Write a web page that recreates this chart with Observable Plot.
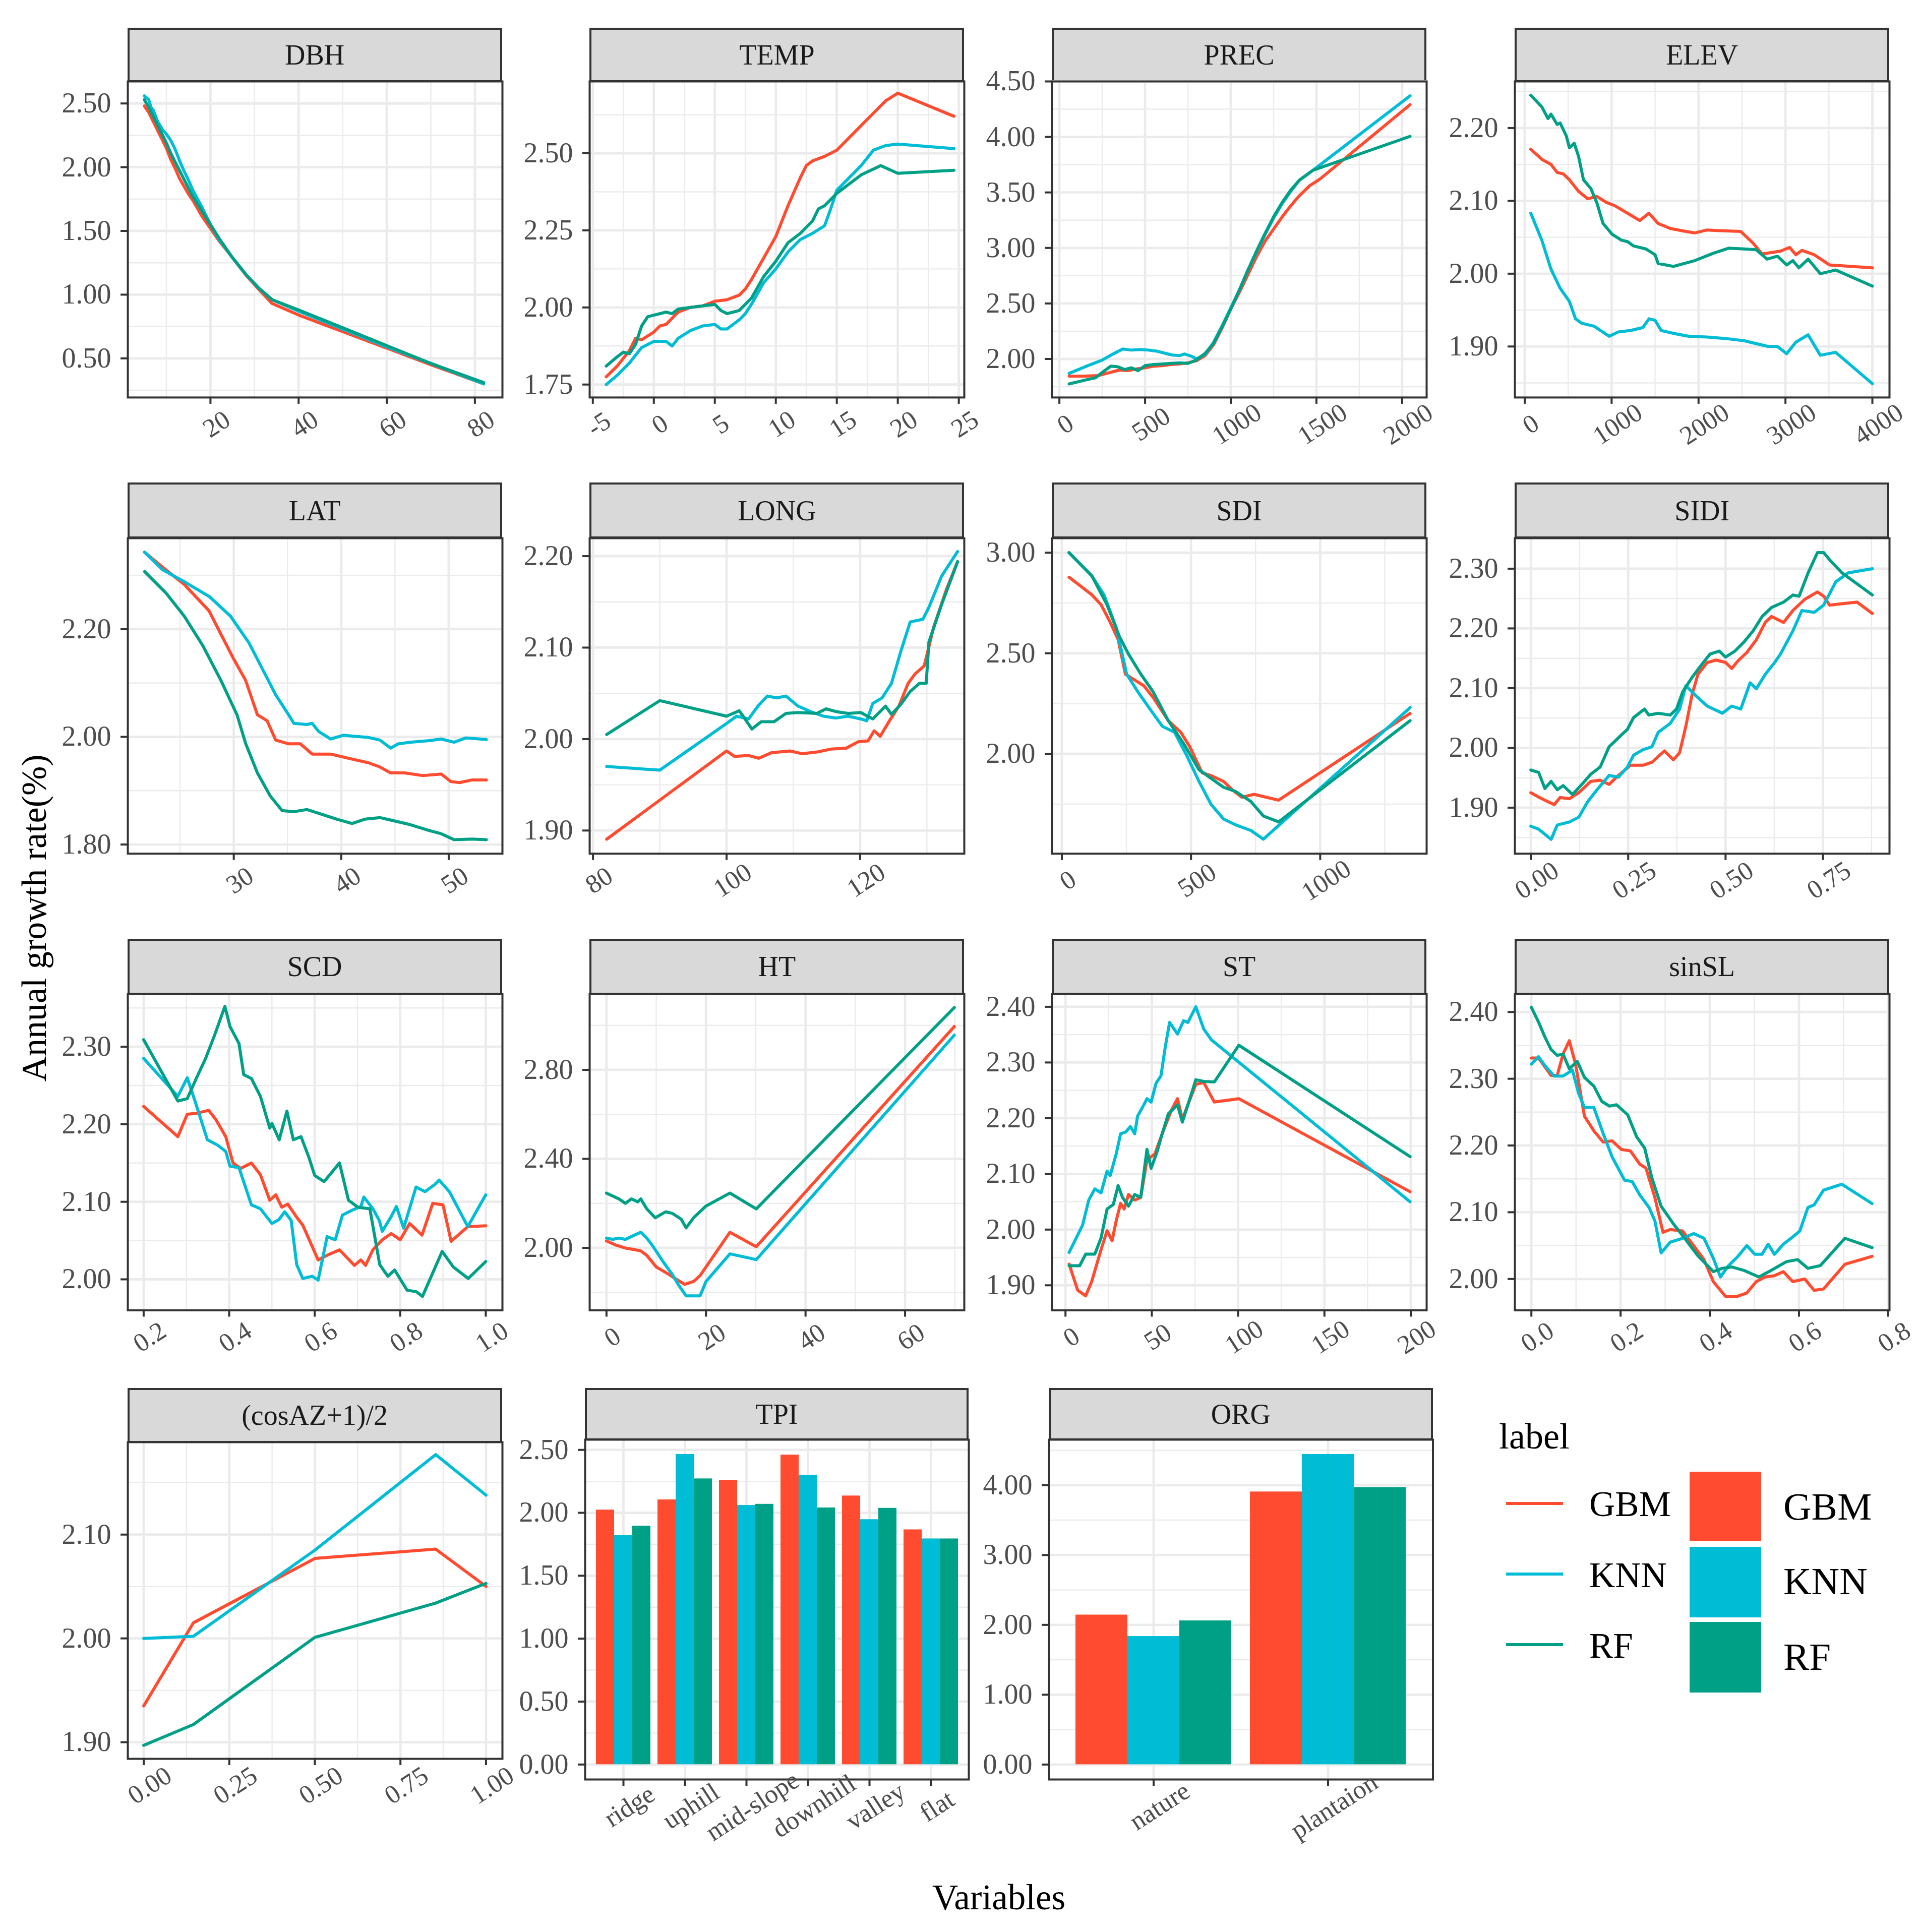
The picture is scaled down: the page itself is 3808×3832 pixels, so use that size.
<!DOCTYPE html>
<html><head><meta charset="utf-8">
<script src="https://cdn.jsdelivr.net/npm/d3@7"></script>
<script src="https://cdn.jsdelivr.net/npm/@observablehq/plot@0.6"></script>
<style>
body{margin:0;background:#fff;}
#root{position:relative;width:3808px;height:3832px;background:#fff;font-family:"Liberation Serif","Times New Roman",serif;overflow:hidden}
#root svg, #root svg text{font-family:"Liberation Serif","Times New Roman",serif !important}
.strip{position:absolute;box-sizing:border-box;background:#D9D9D9;border:4px solid #333;display:flex;align-items:center;justify-content:center;font-size:56px;color:#1A1A1A}
</style></head><body><div id="root"></div>
<script>
// ---------------- DATA ----------------
const models = ["GBM","KNN","RF"];
const palette = ["#FF4B2F","#00BCD5","#00A087"];

const dbh_GBM = [[5,2.48],[6,2.43],[7,2.36],[8,2.29],[9,2.22],[10,2.15],[11,2.06],[12,1.99],[13,1.91],[14,1.85],[15,1.79],[16,1.74],[18,1.62],[20,1.52],[22,1.42],[25,1.29],[28,1.155],[31,1.04],[34,0.93],[40,0.84],[50,0.71],[60,0.58],[70,0.45],[82,0.30]];
const dbh_KNN = [[5,2.56],[6,2.53],[6.5,2.47],[7,2.45],[8,2.36],[9,2.30],[10,2.26],[11,2.21],[12,2.14],[13,2.05],[14,1.97],[15,1.90],[16,1.82],[18,1.69],[20,1.55],[22,1.43],[25,1.29],[28,1.16],[31,1.05],[34,0.96],[40,0.87],[50,0.73],[60,0.59],[70,0.46],[82,0.30]];
const dbh_RF = [[5,2.53],[6,2.47],[7,2.40],[8,2.33],[9,2.26],[10,2.19],[11,2.11],[12,2.04],[14,1.905],[16,1.77],[18,1.66],[20,1.55],[22,1.44],[25,1.29],[28,1.16],[31,1.05],[34,0.96],[40,0.88],[50,0.74],[60,0.60],[70,0.46],[82,0.31]];

const temp_GBM = [[-3.9,1.775],[-3,1.81],[-2,1.86],[-1.5,1.90],[-1,1.895],[0,1.92],[0.5,1.94],[1,1.945],[2,1.985],[3,2.0],[4,2.005],[5,2.02],[6,2.025],[7,2.04],[7.5,2.06],[8,2.09],[9,2.16],[10,2.23],[11,2.33],[12,2.42],[12.5,2.46],[13,2.475],[14,2.49],[15,2.51],[16,2.55],[17,2.59],[18,2.63],[19,2.67],[20,2.695],[24.6,2.62]];
const temp_KNN = [[-3.9,1.75],[-3,1.78],[-2,1.82],[-1,1.87],[0,1.89],[1,1.89],[1.5,1.875],[2,1.90],[3,1.925],[4,1.94],[5,1.945],[5.5,1.93],[6,1.93],[6.5,1.945],[7,1.96],[7.5,1.98],[8,2.01],[9,2.08],[10,2.125],[11,2.18],[12,2.22],[13,2.24],[14,2.265],[14.5,2.32],[15,2.38],[16,2.42],[17,2.46],[18,2.51],[19,2.525],[20,2.53],[24.6,2.515]];
const temp_RF = [[-3.9,1.81],[-3,1.84],[-2.5,1.855],[-2,1.85],[-1.5,1.88],[-1,1.94],[-0.5,1.97],[0,1.975],[1,1.985],[1.5,1.98],[2,1.995],[3,2.0],[4,2.005],[5,2.01],[5.5,1.99],[6,1.98],[6.5,1.985],[7,1.99],[7.5,2.01],[8,2.03],[9,2.10],[10,2.15],[11,2.21],[12,2.24],[13,2.28],[13.5,2.32],[14,2.33],[15,2.37],[16,2.40],[17,2.43],[18.6,2.46],[20,2.435],[24.6,2.445]];

const prec_GBM = [[57,1.845],[150,1.845],[225,1.85],[300,1.88],[350,1.90],[400,1.895],[450,1.91],[500,1.92],[550,1.935],[600,1.94],[650,1.95],[700,1.955],[750,1.965],[800,1.985],[850,2.03],[900,2.13],[950,2.28],[1000,2.45],[1050,2.60],[1100,2.76],[1150,2.92],[1200,3.06],[1250,3.17],[1300,3.28],[1350,3.38],[1400,3.47],[1460,3.56],[1520,3.62],[2046,4.29]];
const prec_KNN = [[57,1.87],[150,1.93],[250,1.99],[320,2.05],[370,2.09],[420,2.08],[470,2.085],[520,2.08],[570,2.07],[620,2.05],[660,2.035],[700,2.03],[730,2.045],[770,2.025],[800,2.0],[850,2.04],[900,2.15],[950,2.30],[1000,2.46],[1050,2.62],[1100,2.80],[1150,2.96],[1200,3.12],[1250,3.27],[1300,3.40],[1350,3.51],[1400,3.61],[1480,3.70],[2046,4.37]];
const prec_RF = [[57,1.775],[150,1.81],[210,1.83],[260,1.89],[300,1.935],[340,1.93],[380,1.905],[420,1.92],[460,1.895],[500,1.94],[550,1.95],[600,1.955],[650,1.96],[700,1.965],[750,1.96],[800,1.99],[850,2.05],[900,2.14],[950,2.29],[1000,2.45],[1050,2.62],[1100,2.80],[1150,2.97],[1200,3.13],[1250,3.28],[1300,3.41],[1350,3.52],[1400,3.61],[1480,3.70],[2046,4.005]];

const elev_GBM = [[70,2.171],[197,2.157],[303,2.15],[373,2.139],[444,2.137],[514,2.129],[620,2.113],[725,2.103],[831,2.106],[937,2.098],[1042,2.093],[1183,2.083],[1324,2.073],[1430,2.083],[1535,2.069],[1676,2.062],[1852,2.058],[1958,2.056],[2099,2.06],[2239,2.059],[2486,2.058],[2627,2.042],[2732,2.027],[2944,2.031],[3049,2.036],[3120,2.026],[3190,2.032],[3331,2.026],[3507,2.012],[4000,2.008]];
const elev_KNN = [[70,2.083],[197,2.046],[303,2.006],[408,1.98],[514,1.962],[585,1.938],[655,1.932],[796,1.928],[972,1.914],[1077,1.92],[1218,1.922],[1359,1.926],[1430,1.938],[1500,1.936],[1570,1.922],[1711,1.918],[1887,1.914],[2099,1.913],[2310,1.911],[2521,1.908],[2662,1.904],[2803,1.90],[2908,1.90],[3014,1.89],[3120,1.906],[3261,1.916],[3401,1.888],[3577,1.892],[4000,1.849]];
const elev_RF = [[70,2.245],[197,2.229],[268,2.213],[303,2.219],[373,2.205],[408,2.207],[479,2.189],[514,2.173],[570,2.179],[620,2.161],[676,2.129],[761,2.117],[831,2.097],[901,2.069],[1007,2.054],[1113,2.046],[1183,2.044],[1254,2.038],[1394,2.034],[1500,2.026],[1535,2.014],[1711,2.01],[1958,2.018],[2169,2.028],[2345,2.035],[2521,2.034],[2662,2.033],[2789,2.02],[2908,2.024],[3014,2.012],[3085,2.018],[3155,2.008],[3261,2.02],[3401,2.0],[3577,2.005],[4000,1.983]];

const lat_GBM = [[21.7,2.343],[23.7,2.31],[25.4,2.283],[27.7,2.234],[28.8,2.191],[29.9,2.148],[31.1,2.105],[32.2,2.041],[33.1,2.03],[33.9,1.994],[35.1,1.987],[36.2,1.987],[37.3,1.968],[39.0,1.968],[40.7,1.96],[42.5,1.952],[43.6,1.944],[44.6,1.933],[45.9,1.933],[47.6,1.928],[49.3,1.931],[50.2,1.917],[51.0,1.915],[52.2,1.92],[53.5,1.92]];
const lat_KNN = [[21.7,2.343],[23.4,2.31],[25.4,2.288],[27.7,2.261],[29.7,2.224],[31.4,2.175],[32.8,2.121],[33.9,2.078],[35.1,2.041],[35.6,2.025],[36.8,2.023],[37.3,2.025],[37.9,2.01],[39.0,1.996],[40.2,2.003],[41.3,2.001],[42.5,1.999],[43.6,1.994],[44.6,1.979],[45.3,1.987],[46.4,1.99],[48.2,1.993],[49.3,1.996],[50.5,1.99],[51.6,1.998],[53.5,1.995]];
const lat_RF = [[21.7,2.307],[23.7,2.267],[25.4,2.224],[27.1,2.17],[28.8,2.105],[30.3,2.041],[31.1,1.988],[32.2,1.933],[33.4,1.89],[34.5,1.863],[35.6,1.861],[36.8,1.865],[37.9,1.858],[39.6,1.847],[41.0,1.839],[42.2,1.847],[43.6,1.85],[44.7,1.845],[46.4,1.837],[48.2,1.826],[49.3,1.82],[50.5,1.809],[52.2,1.81],[53.5,1.809]];

const long_GBM = [[82.05,1.8905],[100,1.987],[101.2,1.981],[103.3,1.982],[104.8,1.979],[106.7,1.985],[109.5,1.987],[111.3,1.984],[113.7,1.986],[115.6,1.989],[117.9,1.99],[119.7,1.997],[121.2,1.998],[122.1,2.009],[123.0,2.003],[124.4,2.02],[125.8,2.036],[127.2,2.061],[128.2,2.071],[129.6,2.08],[131.0,2.122],[132.9,2.163],[134.6,2.194]];
const long_KNN = [[82.05,1.97],[90,1.966],[100,2.017],[101.5,2.025],[103.3,2.022],[104.7,2.036],[106.1,2.047],[107.5,2.045],[108.9,2.047],[110.7,2.036],[112.6,2.03],[114.5,2.025],[116.4,2.023],[118.2,2.025],[120.1,2.022],[121,2.02],[121.9,2.039],[123.3,2.045],[124.7,2.061],[126.1,2.096],[127.5,2.128],[129.4,2.131],[130.3,2.144],[132.2,2.178],[134.6,2.205]];
const long_RF = [[82.05,2.005],[90,2.042],[100,2.025],[101.9,2.031],[103.8,2.011],[105.2,2.019],[107.1,2.019],[108.9,2.028],[110.7,2.029],[113.5,2.028],[114.9,2.033],[116.4,2.03],[118.2,2.028],[120.1,2.029],[121.9,2.022],[123.8,2.036],[124.7,2.027],[126.1,2.038],[127.5,2.052],[128.9,2.061],[129.9,2.061],[130.3,2.106],[132.2,2.147],[134.6,2.194]];

const sdi_GBM = [[28,2.878],[116,2.791],[152,2.741],[187,2.655],[218,2.568],[246,2.396],[282,2.367],[318,2.338],[353,2.281],[412,2.165],[460,2.108],[495,2.036],[543,1.906],[578,1.892],[626,1.863],[661,1.82],[697,1.784],[744,1.799],[839,1.77],[1348,2.201]];
const sdi_KNN = [[28,3.0],[116,2.885],[163,2.791],[211,2.626],[251,2.396],[294,2.309],[341,2.223],[389,2.137],[436,2.108],[483,1.993],[531,1.863],[578,1.748],[626,1.676],[673,1.647],[732,1.619],[780,1.576],[1348,2.23]];
const sdi_RF = [[28,3.0],[116,2.885],[175,2.741],[223,2.583],[258,2.496],[306,2.396],[353,2.309],[412,2.165],[472,2.05],[531,1.921],[578,1.878],[626,1.834],[673,1.813],[732,1.763],[780,1.691],[839,1.662],[1348,2.165]];

const sidi_GBM = [[0,1.925],[0.028,1.915],[0.06,1.905],[0.075,1.917],[0.099,1.915],[0.123,1.925],[0.154,1.944],[0.178,1.946],[0.201,1.939],[0.225,1.954],[0.256,1.971],[0.288,1.971],[0.311,1.976],[0.343,1.995],[0.366,1.98],[0.382,1.992],[0.398,2.036],[0.414,2.089],[0.429,2.123],[0.453,2.143],[0.476,2.147],[0.5,2.143],[0.516,2.133],[0.531,2.145],[0.555,2.16],[0.579,2.181],[0.602,2.21],[0.618,2.22],[0.649,2.21],[0.673,2.23],[0.704,2.249],[0.736,2.261],[0.752,2.254],[0.767,2.239],[0.807,2.242],[0.838,2.244],[0.877,2.225]];
const sidi_KNN = [[0,1.869],[0.02,1.864],[0.052,1.847],[0.068,1.871],[0.099,1.876],[0.123,1.884],[0.146,1.91],[0.17,1.93],[0.201,1.954],[0.225,1.951],[0.248,1.968],[0.264,1.988],[0.288,1.997],[0.311,2.002],[0.327,2.026],[0.358,2.041],[0.382,2.065],[0.398,2.104],[0.421,2.089],[0.453,2.07],[0.492,2.058],[0.516,2.07],[0.539,2.065],[0.563,2.109],[0.579,2.099],[0.602,2.123],[0.626,2.143],[0.641,2.157],[0.673,2.196],[0.696,2.23],[0.728,2.227],[0.752,2.239],[0.783,2.278],[0.815,2.293],[0.877,2.30]];
const sidi_RF = [[0,1.963],[0.02,1.959],[0.036,1.932],[0.052,1.944],[0.068,1.93],[0.083,1.937],[0.107,1.922],[0.131,1.939],[0.154,1.956],[0.178,1.968],[0.201,2.002],[0.233,2.022],[0.248,2.031],[0.264,2.051],[0.292,2.065],[0.303,2.055],[0.327,2.058],[0.358,2.055],[0.374,2.065],[0.39,2.094],[0.414,2.118],[0.437,2.138],[0.46,2.157],[0.484,2.162],[0.5,2.152],[0.524,2.162],[0.547,2.177],[0.571,2.196],[0.594,2.22],[0.618,2.235],[0.649,2.244],[0.673,2.256],[0.689,2.254],[0.712,2.293],[0.736,2.327],[0.752,2.327],[0.767,2.315],[0.799,2.293],[0.877,2.256]];

const scd_GBM = [[0.2,2.223],[0.28,2.184],[0.302,2.213],[0.323,2.214],[0.352,2.218],[0.369,2.206],[0.392,2.184],[0.409,2.15],[0.427,2.143],[0.452,2.15],[0.473,2.135],[0.495,2.102],[0.509,2.109],[0.523,2.093],[0.537,2.097],[0.558,2.08],[0.572,2.07],[0.608,2.025],[0.629,2.031],[0.658,2.038],[0.693,2.018],[0.708,2.025],[0.719,2.018],[0.736,2.038],[0.758,2.051],[0.779,2.059],[0.8,2.051],[0.822,2.072],[0.851,2.057],[0.876,2.098],[0.9,2.096],[0.919,2.049],[0.958,2.068],[1.0,2.069]];
const scd_KNN = [[0.2,2.285],[0.28,2.236],[0.302,2.26],[0.323,2.225],[0.349,2.18],[0.373,2.173],[0.392,2.165],[0.402,2.146],[0.423,2.144],[0.452,2.096],[0.473,2.091],[0.5,2.072],[0.516,2.077],[0.53,2.087],[0.545,2.076],[0.558,2.019],[0.572,2.001],[0.594,2.004],[0.608,1.999],[0.629,2.055],[0.648,2.051],[0.665,2.083],[0.687,2.089],[0.708,2.094],[0.715,2.106],[0.736,2.091],[0.751,2.076],[0.758,2.062],[0.779,2.081],[0.791,2.094],[0.808,2.066],[0.837,2.119],[0.858,2.113],[0.88,2.122],[0.891,2.128],[0.915,2.113],[0.958,2.068],[1.0,2.109]];
const scd_RF = [[0.2,2.309],[0.28,2.23],[0.302,2.233],[0.323,2.259],[0.345,2.285],[0.366,2.315],[0.39,2.352],[0.402,2.326],[0.423,2.304],[0.434,2.264],[0.452,2.259],[0.473,2.236],[0.495,2.195],[0.5,2.201],[0.517,2.18],[0.535,2.217],[0.55,2.18],[0.568,2.184],[0.586,2.158],[0.6,2.134],[0.622,2.126],[0.658,2.15],[0.679,2.102],[0.701,2.093],[0.729,2.091],[0.752,2.019],[0.771,2.004],[0.787,2.012],[0.816,1.986],[0.838,1.984],[0.852,1.978],[0.898,2.036],[0.924,2.016],[0.959,2.001],[1.0,2.023]];

const ht_GBM = [[0,2.031],[1.9,2.012],[3.8,1.999],[5.6,1.992],[6.9,1.986],[8.1,1.966],[10,1.914],[12.5,1.881],[13.8,1.862],[15.7,1.836],[17.5,1.849],[18.8,1.875],[24.8,2.07],[30.1,2.005],[69.9,2.995]];
const ht_KNN = [[0,2.044],[1.25,2.038],[2.5,2.044],[3.8,2.038],[5,2.051],[6.9,2.07],[8.1,2.044],[9.4,2.005],[11.3,1.94],[13.2,1.881],[14.4,1.836],[16,1.784],[18.8,1.784],[20,1.849],[24.8,1.973],[30.1,1.947],[69.9,2.956]];
const ht_RF = [[0,2.246],[1.25,2.233],[2.5,2.22],[3.8,2.2],[5,2.22],[6.3,2.207],[6.9,2.22],[8.1,2.175],[9.8,2.135],[11.9,2.162],[13.2,2.155],[15,2.129],[16,2.09],[17.5,2.135],[20,2.188],[24.8,2.246],[30.1,2.175],[69.9,3.08]];

const st_GBM = [[2.1,1.938],[7.1,1.891],[11.7,1.881],[15.2,1.907],[20.6,1.964],[24.1,1.998],[27,1.98],[29.4,2.016],[31.9,2.047],[34,2.037],[36.5,2.063],[40.1,2.053],[43.6,2.058],[47.2,2.125],[51.8,2.136],[56,2.172],[61.3,2.214],[64.9,2.235],[67.7,2.198],[70.9,2.224],[75.5,2.261],[80.1,2.264],[86.2,2.229],[100.4,2.235],[199.6,2.068]];
const st_KNN = [[2.1,1.959],[9.9,2.008],[13.5,2.053],[17,2.073],[20.6,2.066],[24.1,2.105],[25.9,2.097],[29.4,2.136],[31.9,2.172],[34.8,2.175],[37.6,2.185],[40.1,2.172],[41.8,2.204],[45.4,2.224],[47.2,2.235],[49.6,2.229],[52.5,2.263],[55.3,2.276],[57.8,2.328],[60.3,2.372],[64.9,2.351],[68.4,2.375],[70.9,2.372],[75.5,2.40],[80.1,2.36],[84.4,2.341],[199.6,2.05]];
const st_RF = [[2.1,1.935],[8.2,1.935],[11.7,1.956],[17,1.956],[20.6,1.985],[24.1,2.037],[27.7,2.045],[30.5,2.079],[33,2.058],[36.5,2.042],[40.1,2.063],[43.6,2.058],[47.2,2.144],[49.6,2.11],[53.2,2.141],[56,2.172],[59.6,2.208],[64.9,2.224],[67.7,2.193],[70.9,2.224],[75.5,2.269],[80.1,2.266],[86.2,2.265],[100.4,2.331],[199.6,2.131]];

const sinsl_GBM = [[0,2.331],[0.016,2.331],[0.044,2.305],[0.058,2.305],[0.071,2.337],[0.085,2.357],[0.099,2.322],[0.119,2.244],[0.14,2.222],[0.161,2.205],[0.181,2.207],[0.202,2.194],[0.222,2.192],[0.243,2.172],[0.257,2.166],[0.277,2.122],[0.295,2.07],[0.311,2.074],[0.339,2.072],[0.366,2.048],[0.387,2.029],[0.408,1.996],[0.435,1.974],[0.462,1.974],[0.483,1.979],[0.504,1.996],[0.524,2.003],[0.545,2.005],[0.565,2.011],[0.586,1.996],[0.613,2.0],[0.634,1.983],[0.655,1.985],[0.703,2.022],[0.764,2.034]];
const sinsl_KNN = [[0,2.322],[0.016,2.333],[0.03,2.32],[0.051,2.304],[0.071,2.304],[0.092,2.313],[0.106,2.278],[0.119,2.257],[0.14,2.257],[0.161,2.218],[0.181,2.183],[0.209,2.148],[0.226,2.146],[0.243,2.126],[0.264,2.107],[0.277,2.087],[0.291,2.039],[0.311,2.055],[0.339,2.061],[0.364,2.068],[0.387,2.061],[0.408,2.031],[0.424,2.003],[0.442,2.02],[0.462,2.033],[0.483,2.05],[0.501,2.037],[0.517,2.037],[0.531,2.052],[0.545,2.037],[0.565,2.052],[0.586,2.063],[0.602,2.072],[0.62,2.107],[0.634,2.111],[0.655,2.133],[0.696,2.142],[0.764,2.113]];
const sinsl_RF = [[0,2.407],[0.016,2.385],[0.03,2.363],[0.044,2.344],[0.058,2.335],[0.071,2.337],[0.085,2.315],[0.103,2.326],[0.119,2.302],[0.14,2.289],[0.158,2.266],[0.175,2.259],[0.191,2.261],[0.216,2.246],[0.236,2.213],[0.254,2.196],[0.27,2.152],[0.291,2.109],[0.318,2.083],[0.346,2.059],[0.373,2.035],[0.408,2.011],[0.428,2.016],[0.449,2.018],[0.476,2.013],[0.51,2.003],[0.538,2.013],[0.572,2.026],[0.597,2.029],[0.62,2.016],[0.648,2.02],[0.703,2.061],[0.764,2.047]];

const cosaz_X = [0, 0.145, 0.5, 0.853, 1.0];
const cosaz_GBM = [1.935, 2.015, 2.077, 2.086, 2.05];
const cosaz_KNN = [2.0, 2.002, 2.085, 2.177, 2.138];
const cosaz_RF = [1.897, 1.917, 2.001, 2.034, 2.053];

const tpi_cats = ["ridge","uphill","mid-slope","downhill","valley","flat"];
const tpi_GBM = [2.023, 2.104, 2.26, 2.46, 2.135, 1.866];
const tpi_KNN = [1.82, 2.465, 2.06, 2.30, 1.947, 1.794];
const tpi_RF = [1.895, 2.271, 2.069, 2.04, 2.037, 1.794];

const org_cats = ["nature","plantaion"];
const org_GBM = [2.143, 3.906];
const org_KNN = [1.836, 4.443];
const org_RF = [2.06, 3.969];

// ---------------- LAYOUT / DRAW ----------------
const FONT = '"Liberation Serif","Times New Roman",serif';
const root = document.getElementById("root");
const COLS = [252.6, 1169.4, 2086.1, 3004.2];
const PW = 743;
const ROWS = [
  {strip: 54.5, top: 160.7, bottom: 787.6},
  {strip: 957.4, top: 1066.5, bottom: 1692.2},
  {strip: 1862, top: 1970.5, bottom: 2598},
  {strip: 2752.7, top: 2860, bottom: 3488}
];
const M = {l: 170, r: 40, t: 10, b: 180};
const fmt2 = d3.format(".2f"), fmt1 = d3.format(".1f"), fmtI = d => String(d);
const GRID = "#EBEBEB";

function place(node, left, top) {
  node.style.position = "absolute";
  node.style.left = left + "px";
  node.style.top = top + "px";
  root.appendChild(node);
}
function strip(text, left, top, width, bottom) {
  const d = document.createElement("div");
  d.className = "strip";
  d.textContent = text;
  d.style.left = left + "px";
  d.style.top = top + "px";
  d.style.width = width + "px";
  d.style.height = (bottom - top + 2) + "px";
  root.appendChild(d);
}
function axes(xOpts, yMajor, yFmt) {
  return [
    Plot.frame({stroke: "#333", strokeWidth: 4}),
    Plot.axisY(yMajor, {tickFormat: yFmt, tickSize: 14, tickPadding: 19, stroke: "#333", strokeWidth: 4, color: "#4D4D4D", fill: "#4D4D4D", fontSize: 56, fontFamily: FONT, label: null}),
    // tick marks only
    Plot.axisX(xOpts.ticks, {tickFormat: () => "", tickSize: 13, stroke: "#333", strokeWidth: 4, label: null}),
    // rotated labels, centred just below each tick
    Plot.axisX(xOpts.ticks, {tickFormat: xOpts.fmt, tickSize: 0, tickPadding: 53, tickRotate: -33, textAnchor: "middle", lineAnchor: "middle", dx: 12, color: "#4D4D4D", fill: "#4D4D4D", fontSize: 52, fontFamily: FONT, label: null})
  ];
}

function linePanel(p) {
  const R = ROWS[p.row], L = COLS[p.col];
  const H = R.bottom - R.top;
  strip(p.name, L, R.strip, PW, R.top);
  const data = models.flatMap((m, i) => p.series[i].map(([x, y]) => ({x, y, label: m})));
  const svg = Plot.plot({
    width: PW + M.l + M.r, height: H + M.t + M.b,
    marginLeft: M.l, marginRight: M.r, marginTop: M.t, marginBottom: M.b,
    style: {fontFamily: FONT, background: "transparent", overflow: "visible"},
    x: {domain: p.xDomain, label: null},
    y: {domain: p.yDomain, label: null},
    color: {domain: models, range: palette},
    marks: [
      Plot.gridY(p.yMinor, {stroke: GRID, strokeOpacity: 1, strokeWidth: 2.4}),
      Plot.gridX(p.xMinor, {stroke: GRID, strokeOpacity: 1, strokeWidth: 2.4}),
      Plot.gridY(p.yMajor, {stroke: GRID, strokeOpacity: 1, strokeWidth: 4.8}),
      Plot.gridX(p.xMajor, {stroke: GRID, strokeOpacity: 1, strokeWidth: 4.8}),
      Plot.line(data, {x: "x", y: "y", stroke: "label", strokeWidth: 6, strokeLinejoin: "round"}),
      ...axes({ticks: p.xMajor, fmt: p.xFmt}, p.yMajor, p.yFmt)
    ]
  });
  place(svg, L - M.l, R.top - M.t);
}

function barPanel(p) {
  const L = p.left, W = p.width, H = p.bottom - p.top;
  strip(p.name, L, p.strip, W, p.top);
  const data = models.flatMap((m, i) => p.cats.map((c, j) => ({cat: c, label: m, value: p.values[i][j]})));
  const common = {
    width: W + M.l + M.r, height: H + M.t + M.b,
    marginLeft: M.l, marginRight: M.r, marginTop: M.t, marginBottom: M.b,
    style: {fontFamily: FONT, background: "transparent", overflow: "visible"},
    color: {domain: models, range: palette}
  };
  const back = Plot.plot({
    ...common,
    x: {type: "band", domain: p.cats, paddingInner: 0.1, paddingOuter: 0.15, label: null},
    y: {domain: p.yDomain, label: null},
    marks: [
      Plot.gridY(p.yMinor, {stroke: GRID, strokeOpacity: 1, strokeWidth: 2.4}),
      Plot.gridY(p.yMajor, {stroke: GRID, strokeOpacity: 1, strokeWidth: 4.8}),
      Plot.gridX({stroke: GRID, strokeOpacity: 1, strokeWidth: 4.8}),
      ...axes({ticks: undefined, fmt: d => d}, p.yMajor, fmt2)
    ]
  });
  place(back, L - M.l, p.top - M.t);
  const front = Plot.plot({
    ...common,
    facet: {data: data, x: "cat"},
    fx: {domain: p.cats, paddingInner: 0.1, paddingOuter: 0.15, axis: null, label: null},
    x: {domain: models, padding: 0, axis: null, label: null},
    y: {domain: p.yDomain, axis: null, label: null},
    marks: [
      Plot.barY(data, {x: "label", y: "value", fill: "label"})
    ]
  });
  place(front, L - M.l, p.top - M.t);
}

linePanel({name: "DBH", row: 0, col: 0, series: [dbh_GBM, dbh_KNN, dbh_RF],
  xDomain: [1.25, 86.25], xMajor: [20,40,60,80], xMinor: [10,30,50,70], xFmt: fmtI,
  yDomain: [0.193, 2.673], yMajor: [0.5,1,1.5,2,2.5], yMinor: [0.25,0.75,1.25,1.75,2.25], yFmt: fmt2});
linePanel({name: "TEMP", row: 0, col: 1, series: [temp_GBM, temp_KNN, temp_RF],
  xDomain: [-5.26, 25.45], xMajor: [-5,0,5,10,15,20,25], xMinor: [-2.5,2.5,7.5,12.5,17.5,22.5], xFmt: fmtI,
  yDomain: [1.708, 2.733], yMajor: [1.75,2,2.25,2.5], yMinor: [1.875,2.125,2.375,2.625], yFmt: fmt2});
linePanel({name: "PREC", row: 0, col: 2, series: [prec_GBM, prec_KNN, prec_RF],
  xDomain: [-43, 2143], xMajor: [0,500,1000,1500,2000], xMinor: [250,750,1250,1750], xFmt: fmtI,
  yDomain: [1.653, 4.5], yMajor: [2,2.5,3,3.5,4,4.5], yMinor: [1.75,2.25,2.75,3.25,3.75,4.25], yFmt: fmt2});
linePanel({name: "ELEV", row: 0, col: 3, series: [elev_GBM, elev_KNN, elev_RF],
  xDomain: [-113, 4197], xMajor: [0,1000,2000,3000,4000], xMinor: [500,1500,2500,3500], xFmt: fmtI,
  yDomain: [1.83, 2.264], yMajor: [1.9,2.0,2.1,2.2], yMinor: [1.85,1.95,2.05,2.15,2.25], yFmt: fmt2});

linePanel({name: "LAT", row: 1, col: 0, series: [lat_GBM, lat_KNN, lat_RF],
  xDomain: [20.14, 55.0], xMajor: [30,40,50], xMinor: [25,35,45], xFmt: fmtI,
  yDomain: [1.783, 2.369], yMajor: [1.8,2.0,2.2], yMinor: [1.9,2.1,2.3], yFmt: fmt2});
linePanel({name: "LONG", row: 1, col: 1, series: [long_GBM, long_KNN, long_RF],
  xDomain: [79.5, 135.6], xMajor: [80,100,120], xMinor: [90,110,130], xFmt: fmtI,
  yDomain: [1.8747, 2.2196], yMajor: [1.9,2.0,2.1,2.2], yMinor: [1.95,2.05,2.15], yFmt: fmt2});
linePanel({name: "SDI", row: 1, col: 2, series: [sdi_GBM, sdi_KNN, sdi_RF],
  xDomain: [-38, 1412], xMajor: [0,500,1000], xMinor: [250,750,1250], xFmt: fmtI,
  yDomain: [1.504, 3.072], yMajor: [2.0,2.5,3.0], yMinor: [1.75,2.25,2.75], yFmt: fmt2});
linePanel({name: "SIDI", row: 1, col: 3, series: [sidi_GBM, sidi_KNN, sidi_RF],
  xDomain: [-0.041, 0.921], xMajor: [0,0.25,0.5,0.75], xMinor: [0.125,0.375,0.625,0.875], xFmt: fmt2,
  yDomain: [1.823, 2.351], yMajor: [1.9,2.0,2.1,2.2,2.3], yMinor: [1.85,1.95,2.05,2.15,2.25], yFmt: fmt2});

linePanel({name: "SCD", row: 2, col: 0, series: [scd_GBM, scd_KNN, scd_RF],
  xDomain: [0.163, 1.039], xMajor: [0.2,0.4,0.6,0.8,1.0], xMinor: [0.3,0.5,0.7,0.9], xFmt: fmt1,
  yDomain: [1.96, 2.368], yMajor: [2.0,2.1,2.2,2.3], yMinor: [2.05,2.15,2.25,2.35], yFmt: fmt2});
linePanel({name: "HT", row: 2, col: 1, series: [ht_GBM, ht_KNN, ht_RF],
  xDomain: [-3.38, 71.9], xMajor: [0,20,40,60], xMinor: [10,30,50,70], xFmt: fmtI,
  yDomain: [1.719, 3.141], yMajor: [2.0,2.4,2.8], yMinor: [1.8,2.2,2.6,3.0], yFmt: fmt2});
linePanel({name: "ST", row: 2, col: 2, series: [st_GBM, st_KNN, st_RF],
  xDomain: [-7.8, 209.2], xMajor: [0,50,100,150,200], xMinor: [25,75,125,175], xFmt: fmtI,
  yDomain: [1.855, 2.423], yMajor: [1.9,2.0,2.1,2.2,2.3,2.4], yMinor: [1.95,2.05,2.15,2.25,2.35], yFmt: fmt2});
linePanel({name: "sinSL", row: 2, col: 3, series: [sinsl_GBM, sinsl_KNN, sinsl_RF],
  xDomain: [-0.037, 0.803], xMajor: [0,0.2,0.4,0.6,0.8], xMinor: [0.1,0.3,0.5,0.7], xFmt: fmt1,
  yDomain: [1.953, 2.427], yMajor: [2.0,2.1,2.2,2.3,2.4], yMinor: [2.05,2.15,2.25,2.35], yFmt: fmt2});

linePanel({name: "(cosAZ+1)/2", row: 3, col: 0,
  series: [cosaz_GBM, cosaz_KNN, cosaz_RF].map(v => cosaz_X.map((x, i) => [x, v[i]])),
  xDomain: [-0.0465, 1.048], xMajor: [0,0.25,0.5,0.75,1.0], xMinor: [0.125,0.375,0.625,0.875], xFmt: fmt2,
  yDomain: [1.884, 2.189], yMajor: [1.9,2.0,2.1], yMinor: [1.95,2.05,2.15], yFmt: fmt2});

barPanel({name: "TPI", left: 1160, width: 761, strip: 2752.7, top: 2855, bottom: 3529,
  cats: tpi_cats, values: [tpi_GBM, tpi_KNN, tpi_RF],
  yDomain: [-0.119, 2.581], yMajor: [0,0.5,1,1.5,2,2.5], yMinor: [0.25,0.75,1.25,1.75,2.25]});
barPanel({name: "ORG", left: 2080, width: 761.5, strip: 2752.7, top: 2855, bottom: 3529,
  cats: org_cats, values: [org_GBM, org_KNN, org_RF],
  yDomain: [-0.214, 4.652], yMajor: [0,1,2,3,4], yMinor: [0.5,1.5,2.5,3.5,4.5]});

// ---------------- TITLES & LEGEND ----------------
const NS = "http://www.w3.org/2000/svg";
const ov = document.createElementNS(NS, "svg");
ov.setAttribute("width", 3808); ov.setAttribute("height", 3832);
ov.style.position = "absolute"; ov.style.left = "0px"; ov.style.top = "0px";
ov.style.fontFamily = FONT;
function el(tag, attrs, text) {
  const e = document.createElementNS(NS, tag);
  for (const k in attrs) e.setAttribute(k, attrs[k]);
  if (text != null) e.textContent = text;
  ov.appendChild(e);
  return e;
}
el("text", {x: 0, y: 0, transform: "translate(91,1821) rotate(-90)", "text-anchor": "middle", "font-size": 70, fill: "#000"}, "Annual growth rate(%)");
el("text", {x: 1981, y: 3787, "text-anchor": "middle", "font-size": 71, fill: "#000"}, "Variables");
el("text", {x: 2973, y: 2873, "font-size": 72, fill: "#000"}, "label");
const lineKeyY = [2982, 3122, 3262];
const lineLabY = [3007, 3148, 3288];
const rectY = [[2919, 138], [3068, 140], [3217, 140]];
const rectLabY = [3014, 3162, 3312];
models.forEach((m, i) => {
  el("line", {x1: 2987, x2: 3100, y1: lineKeyY[i], y2: lineKeyY[i], stroke: palette[i], "stroke-width": 6});
  el("text", {x: 3152, y: lineLabY[i], "font-size": 71, fill: "#000"}, m);
  el("rect", {x: 3351, y: rectY[i][0], width: 142, height: rectY[i][1], fill: palette[i]});
  el("text", {x: 3537, y: rectLabY[i], "font-size": 77, fill: "#000"}, m);
});
root.appendChild(ov);
</script></body></html>
